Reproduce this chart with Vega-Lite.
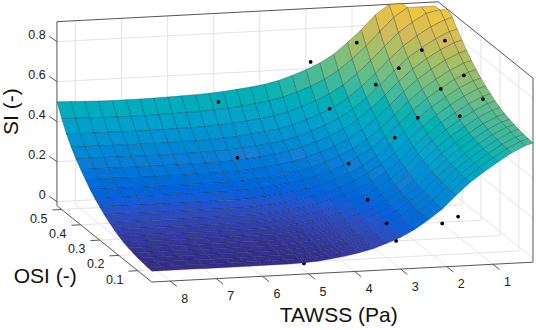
{"$schema":"https://vega.github.io/schema/vega-lite/v6.json","width":536,"height":330,"padding":0,"autosize":"none","background":"white","config":{"view":{"stroke":null},"text":{"font":"Liberation Sans"}},
"datasets":{
"frame":[
{"k":"grid","t":1,"o":0.525,"s":-0.02,"t2":1,"o2":0.525,"s2":0.9},{"k":"grid","t":2,"o":0.525,"s":-0.02,"t2":2,"o2":0.525,"s2":0.9},{"k":"grid","t":3,"o":0.525,"s":-0.02,"t2":3,"o2":0.525,"s2":0.9},{"k":"grid","t":4,"o":0.525,"s":-0.02,"t2":4,"o2":0.525,"s2":0.9},{"k":"grid","t":5,"o":0.525,"s":-0.02,"t2":5,"o2":0.525,"s2":0.9},{"k":"grid","t":6,"o":0.525,"s":-0.02,"t2":6,"o2":0.525,"s2":0.9},{"k":"grid","t":7,"o":0.525,"s":-0.02,"t2":7,"o2":0.525,"s2":0.9},{"k":"grid","t":8,"o":0.525,"s":-0.02,"t2":8,"o2":0.525,"s2":0.9},
{"k":"grid","t":8.4,"o":0.525,"s":0,"t2":0.13,"o2":0.525,"s2":0},{"k":"grid","t":8.4,"o":0.525,"s":0.2,"t2":0.13,"o2":0.525,"s2":0.2},{"k":"grid","t":8.4,"o":0.525,"s":0.4,"t2":0.13,"o2":0.525,"s2":0.4},{"k":"grid","t":8.4,"o":0.525,"s":0.6,"t2":0.13,"o2":0.525,"s2":0.6},{"k":"grid","t":8.4,"o":0.525,"s":0.8,"t2":0.13,"o2":0.525,"s2":0.8},
{"k":"grid","t":0.13,"o":0.1,"s":-0.02,"t2":0.13,"o2":0.1,"s2":0.9},{"k":"grid","t":0.13,"o":0.2,"s":-0.02,"t2":0.13,"o2":0.2,"s2":0.9},{"k":"grid","t":0.13,"o":0.3,"s":-0.02,"t2":0.13,"o2":0.3,"s2":0.9},{"k":"grid","t":0.13,"o":0.4,"s":-0.02,"t2":0.13,"o2":0.4,"s2":0.9},{"k":"grid","t":0.13,"o":0.5,"s":-0.02,"t2":0.13,"o2":0.5,"s2":0.9},
{"k":"grid","t":0.13,"o":0.026,"s":0,"t2":0.13,"o2":0.525,"s2":0},{"k":"grid","t":0.13,"o":0.026,"s":0.2,"t2":0.13,"o2":0.525,"s2":0.2},{"k":"grid","t":0.13,"o":0.026,"s":0.4,"t2":0.13,"o2":0.525,"s2":0.4},{"k":"grid","t":0.13,"o":0.026,"s":0.6,"t2":0.13,"o2":0.525,"s2":0.6},{"k":"grid","t":0.13,"o":0.026,"s":0.8,"t2":0.13,"o2":0.525,"s2":0.8},
{"k":"grid","t":1,"o":0.026,"s":-0.02,"t2":1,"o2":0.525,"s2":-0.02},{"k":"grid","t":2,"o":0.026,"s":-0.02,"t2":2,"o2":0.525,"s2":-0.02},{"k":"grid","t":3,"o":0.026,"s":-0.02,"t2":3,"o2":0.525,"s2":-0.02},{"k":"grid","t":4,"o":0.026,"s":-0.02,"t2":4,"o2":0.525,"s2":-0.02},{"k":"grid","t":5,"o":0.026,"s":-0.02,"t2":5,"o2":0.525,"s2":-0.02},{"k":"grid","t":6,"o":0.026,"s":-0.02,"t2":6,"o2":0.525,"s2":-0.02},{"k":"grid","t":7,"o":0.026,"s":-0.02,"t2":7,"o2":0.525,"s2":-0.02},{"k":"grid","t":8,"o":0.026,"s":-0.02,"t2":8,"o2":0.525,"s2":-0.02},
{"k":"grid","t":8.4,"o":0.1,"s":-0.02,"t2":0.13,"o2":0.1,"s2":-0.02},{"k":"grid","t":8.4,"o":0.2,"s":-0.02,"t2":0.13,"o2":0.2,"s2":-0.02},{"k":"grid","t":8.4,"o":0.3,"s":-0.02,"t2":0.13,"o2":0.3,"s2":-0.02},{"k":"grid","t":8.4,"o":0.4,"s":-0.02,"t2":0.13,"o2":0.4,"s2":-0.02},{"k":"grid","t":8.4,"o":0.5,"s":-0.02,"t2":0.13,"o2":0.5,"s2":-0.02},
{"k":"edge","t":8.4,"o":0.525,"s":-0.02,"t2":8.4,"o2":0.525,"s2":0.9},{"k":"edge","t":8.4,"o":0.525,"s":0.9,"t2":0.13,"o2":0.525,"s2":0.9},{"k":"edge","t":0.13,"o":0.525,"s":0.9,"t2":0.13,"o2":0.026,"s2":0.9},{"k":"edge","t":0.13,"o":0.026,"s":0.9,"t2":0.13,"o2":0.026,"s2":-0.02},{"k":"edge","t":8.4,"o":0.525,"s":-0.02,"t2":8.4,"o2":0.026,"s2":-0.02},{"k":"edge","t":8.4,"o":0.026,"s":-0.02,"t2":0.13,"o2":0.026,"s2":-0.02},
{"k":"edge","t":1,"o":0.026,"s":-0.02,"t2":1,"o2":-0.009,"s2":-0.02},{"k":"edge","t":2,"o":0.026,"s":-0.02,"t2":2,"o2":-0.009,"s2":-0.02},{"k":"edge","t":3,"o":0.026,"s":-0.02,"t2":3,"o2":-0.009,"s2":-0.02},{"k":"edge","t":4,"o":0.026,"s":-0.02,"t2":4,"o2":-0.009,"s2":-0.02},{"k":"edge","t":5,"o":0.026,"s":-0.02,"t2":5,"o2":-0.009,"s2":-0.02},{"k":"edge","t":6,"o":0.026,"s":-0.02,"t2":6,"o2":-0.009,"s2":-0.02},{"k":"edge","t":7,"o":0.026,"s":-0.02,"t2":7,"o2":-0.009,"s2":-0.02},{"k":"edge","t":8,"o":0.026,"s":-0.02,"t2":8,"o2":-0.009,"s2":-0.02},
{"k":"edge","t":8.4,"o":0.1,"s":-0.02,"t2":8.6,"o2":0.1,"s2":-0.02},{"k":"edge","t":8.4,"o":0.2,"s":-0.02,"t2":8.6,"o2":0.2,"s2":-0.02},{"k":"edge","t":8.4,"o":0.3,"s":-0.02,"t2":8.6,"o2":0.3,"s2":-0.02},{"k":"edge","t":8.4,"o":0.4,"s":-0.02,"t2":8.6,"o2":0.4,"s2":-0.02},{"k":"edge","t":8.4,"o":0.5,"s":-0.02,"t2":8.6,"o2":0.5,"s2":-0.02},
{"k":"edge","t":8.4,"o":0.525,"s":0,"t2":8.42,"o2":0.56,"s2":0},{"k":"edge","t":8.4,"o":0.525,"s":0.2,"t2":8.42,"o2":0.56,"s2":0.2},{"k":"edge","t":8.4,"o":0.525,"s":0.4,"t2":8.42,"o2":0.56,"s2":0.4},{"k":"edge","t":8.4,"o":0.525,"s":0.6,"t2":8.42,"o2":0.56,"s2":0.6},{"k":"edge","t":8.4,"o":0.525,"s":0.8,"t2":8.42,"o2":0.56,"s2":0.8}],
"labels":[
{"k":"t","label":"1","t":1,"o":0.026,"s":-0.02},{"k":"t","label":"2","t":2,"o":0.026,"s":-0.02},{"k":"t","label":"3","t":3,"o":0.026,"s":-0.02},{"k":"t","label":"4","t":4,"o":0.026,"s":-0.02},{"k":"t","label":"5","t":5,"o":0.026,"s":-0.02},{"k":"t","label":"6","t":6,"o":0.026,"s":-0.02},{"k":"t","label":"7","t":7,"o":0.026,"s":-0.02},{"k":"t","label":"8","t":8,"o":0.026,"s":-0.02},
{"k":"o","label":"0.1","t":8.4,"o":0.1,"s":-0.02},{"k":"o","label":"0.2","t":8.4,"o":0.2,"s":-0.02},{"k":"o","label":"0.3","t":8.4,"o":0.3,"s":-0.02},{"k":"o","label":"0.4","t":8.4,"o":0.4,"s":-0.02},{"k":"o","label":"0.5","t":8.4,"o":0.5,"s":-0.02},
{"k":"s","label":"0","t":8.4,"o":0.525,"s":0},{"k":"s","label":"0.2","t":8.4,"o":0.525,"s":0.2},{"k":"s","label":"0.4","t":8.4,"o":0.525,"s":0.4},{"k":"s","label":"0.6","t":8.4,"o":0.525,"s":0.6},{"k":"s","label":"0.8","t":8.4,"o":0.525,"s":0.8},
{"k":"ts","label":"SI (-)","t":8.4,"o":0.525,"s":0.45},{"k":"to","label":"OSI (-)","t":8.4,"o":0.25,"s":-0.02},{"k":"tt","label":"TAWSS (Pa)","t":4.3,"o":0.026,"s":-0.02}],
"dots":[
{"t":3,"o":0.5,"s":0.653,"p":"top"},{"t":2,"o":0.5,"s":0.737,"p":"top"},{"t":1.5,"o":0.5,"s":0.785,"p":"under"},{"t":0.5,"o":0.4,"s":0.806,"p":"top"},{"t":1,"o":0.4,"s":0.765,"p":"top"},{"t":1.5,"o":0.4,"s":0.68,"p":"top"},{"t":0.5,"o":0.3,"s":0.709,"p":"top"},{"t":2,"o":0.4,"s":0.604,"p":"top"},{"t":1,"o":0.3,"s":0.647,"p":"top"},{"t":0.5,"o":0.2,"s":0.667,"p":"top"},{"t":3,"o":0.4,"s":0.496,"p":"top"},{"t":1.5,"o":0.3,"s":0.509,"p":"top"},{"t":1,"o":0.2,"s":0.588,"p":"top"},{"t":2,"o":0.3,"s":0.415,"p":"top"},{"t":3,"o":0.3,"s":0.297,"p":"top"},{"t":5,"o":0.5,"s":0.477,"p":"top"},{"t":5,"o":0.4,"s":0.275,"p":"top"},{"t":3,"o":0.2,"s":0.194,"p":"top"},{"t":3,"o":0.1,"s":0.152,"p":"top"},{"t":3,"o":0.05,"s":0.102,"p":"under"},{"t":2,"o":0.05,"s":0.178,"p":"top"},{"t":1.45,"o":0.1,"s":0.167,"p":"top"},{"t":5,"o":0.1,"s":0.043,"p":"under"},{"t":5,"o":0.05,"s":0.014,"p":"under"}],
"surface":[
{"t":8.4,"o":0.025,"s":0.035},{"t":8.4,"o":0.05,"s":0.037},{"t":8.4,"o":0.075,"s":0.04},{"t":8.4,"o":0.1,"s":0.044},{"t":8.4,"o":0.125,"s":0.05},{"t":8.4,"o":0.15,"s":0.056},{"t":8.4,"o":0.175,"s":0.065},{"t":8.4,"o":0.2,"s":0.076},{"t":8.4,"o":0.225,"s":0.09},{"t":8.4,"o":0.25,"s":0.106},{"t":8.4,"o":0.275,"s":0.125},{"t":8.4,"o":0.3,"s":0.145},{"t":8.4,"o":0.325,"s":0.168},{"t":8.4,"o":0.35,"s":0.194},{"t":8.4,"o":0.375,"s":0.224},{"t":8.4,"o":0.4,"s":0.256},{"t":8.4,"o":0.425,"s":0.29},{"t":8.4,"o":0.45,"s":0.33},{"t":8.4,"o":0.475,"s":0.377},{"t":8.4,"o":0.5,"s":0.435},{"t":8.4,"o":0.525,"s":0.5},
{"t":8.1,"o":0.025,"s":0.035},{"t":8.1,"o":0.05,"s":0.037},{"t":8.1,"o":0.075,"s":0.04},{"t":8.1,"o":0.1,"s":0.044},{"t":8.1,"o":0.125,"s":0.05},{"t":8.1,"o":0.15,"s":0.056},{"t":8.1,"o":0.175,"s":0.065},{"t":8.1,"o":0.2,"s":0.076},{"t":8.1,"o":0.225,"s":0.09},{"t":8.1,"o":0.25,"s":0.106},{"t":8.1,"o":0.275,"s":0.125},{"t":8.1,"o":0.3,"s":0.145},{"t":8.1,"o":0.325,"s":0.168},{"t":8.1,"o":0.35,"s":0.194},{"t":8.1,"o":0.375,"s":0.224},{"t":8.1,"o":0.4,"s":0.256},{"t":8.1,"o":0.425,"s":0.29},{"t":8.1,"o":0.45,"s":0.329},{"t":8.1,"o":0.475,"s":0.375},{"t":8.1,"o":0.5,"s":0.432},{"t":8.1,"o":0.525,"s":0.497},
{"t":7.8,"o":0.025,"s":0.035},{"t":7.8,"o":0.05,"s":0.037},{"t":7.8,"o":0.075,"s":0.04},{"t":7.8,"o":0.1,"s":0.044},{"t":7.8,"o":0.125,"s":0.05},{"t":7.8,"o":0.15,"s":0.056},{"t":7.8,"o":0.175,"s":0.065},{"t":7.8,"o":0.2,"s":0.076},{"t":7.8,"o":0.225,"s":0.09},{"t":7.8,"o":0.25,"s":0.106},{"t":7.8,"o":0.275,"s":0.125},{"t":7.8,"o":0.3,"s":0.145},{"t":7.8,"o":0.325,"s":0.168},{"t":7.8,"o":0.35,"s":0.194},{"t":7.8,"o":0.375,"s":0.224},{"t":7.8,"o":0.4,"s":0.256},{"t":7.8,"o":0.425,"s":0.29},{"t":7.8,"o":0.45,"s":0.329},{"t":7.8,"o":0.475,"s":0.375},{"t":7.8,"o":0.5,"s":0.431},{"t":7.8,"o":0.525,"s":0.495},
{"t":7.5,"o":0.025,"s":0.035},{"t":7.5,"o":0.05,"s":0.037},{"t":7.5,"o":0.075,"s":0.04},{"t":7.5,"o":0.1,"s":0.044},{"t":7.5,"o":0.125,"s":0.05},{"t":7.5,"o":0.15,"s":0.056},{"t":7.5,"o":0.175,"s":0.065},{"t":7.5,"o":0.2,"s":0.076},{"t":7.5,"o":0.225,"s":0.09},{"t":7.5,"o":0.25,"s":0.106},{"t":7.5,"o":0.275,"s":0.125},{"t":7.5,"o":0.3,"s":0.145},{"t":7.5,"o":0.325,"s":0.168},{"t":7.5,"o":0.35,"s":0.194},{"t":7.5,"o":0.375,"s":0.223},{"t":7.5,"o":0.4,"s":0.255},{"t":7.5,"o":0.425,"s":0.289},{"t":7.5,"o":0.45,"s":0.328},{"t":7.5,"o":0.475,"s":0.374},{"t":7.5,"o":0.5,"s":0.43},{"t":7.5,"o":0.525,"s":0.493},
{"t":7.2,"o":0.025,"s":0.034},{"t":7.2,"o":0.05,"s":0.036},{"t":7.2,"o":0.075,"s":0.039},{"t":7.2,"o":0.1,"s":0.043},{"t":7.2,"o":0.125,"s":0.049},{"t":7.2,"o":0.15,"s":0.055},{"t":7.2,"o":0.175,"s":0.064},{"t":7.2,"o":0.2,"s":0.075},{"t":7.2,"o":0.225,"s":0.089},{"t":7.2,"o":0.25,"s":0.105},{"t":7.2,"o":0.275,"s":0.124},{"t":7.2,"o":0.3,"s":0.144},{"t":7.2,"o":0.325,"s":0.167},{"t":7.2,"o":0.35,"s":0.193},{"t":7.2,"o":0.375,"s":0.222},{"t":7.2,"o":0.4,"s":0.254},{"t":7.2,"o":0.425,"s":0.288},{"t":7.2,"o":0.45,"s":0.327},{"t":7.2,"o":0.475,"s":0.373},{"t":7.2,"o":0.5,"s":0.428},{"t":7.2,"o":0.525,"s":0.492},
{"t":6.9,"o":0.025,"s":0.034},{"t":6.9,"o":0.05,"s":0.036},{"t":6.9,"o":0.075,"s":0.039},{"t":6.9,"o":0.1,"s":0.043},{"t":6.9,"o":0.125,"s":0.049},{"t":6.9,"o":0.15,"s":0.055},{"t":6.9,"o":0.175,"s":0.064},{"t":6.9,"o":0.2,"s":0.075},{"t":6.9,"o":0.225,"s":0.089},{"t":6.9,"o":0.25,"s":0.105},{"t":6.9,"o":0.275,"s":0.124},{"t":6.9,"o":0.3,"s":0.144},{"t":6.9,"o":0.325,"s":0.167},{"t":6.9,"o":0.35,"s":0.193},{"t":6.9,"o":0.375,"s":0.222},{"t":6.9,"o":0.4,"s":0.254},{"t":6.9,"o":0.425,"s":0.288},{"t":6.9,"o":0.45,"s":0.327},{"t":6.9,"o":0.475,"s":0.373},{"t":6.9,"o":0.5,"s":0.428},{"t":6.9,"o":0.525,"s":0.492},
{"t":6.6,"o":0.025,"s":0.034},{"t":6.6,"o":0.05,"s":0.036},{"t":6.6,"o":0.075,"s":0.039},{"t":6.6,"o":0.1,"s":0.043},{"t":6.6,"o":0.125,"s":0.049},{"t":6.6,"o":0.15,"s":0.055},{"t":6.6,"o":0.175,"s":0.064},{"t":6.6,"o":0.2,"s":0.075},{"t":6.6,"o":0.225,"s":0.089},{"t":6.6,"o":0.25,"s":0.105},{"t":6.6,"o":0.275,"s":0.124},{"t":6.6,"o":0.3,"s":0.144},{"t":6.6,"o":0.325,"s":0.167},{"t":6.6,"o":0.35,"s":0.193},{"t":6.6,"o":0.375,"s":0.222},{"t":6.6,"o":0.4,"s":0.254},{"t":6.6,"o":0.425,"s":0.288},{"t":6.6,"o":0.45,"s":0.327},{"t":6.6,"o":0.475,"s":0.373},{"t":6.6,"o":0.5,"s":0.428},{"t":6.6,"o":0.525,"s":0.492},
{"t":6.3,"o":0.025,"s":0.034},{"t":6.3,"o":0.05,"s":0.036},{"t":6.3,"o":0.075,"s":0.039},{"t":6.3,"o":0.1,"s":0.043},{"t":6.3,"o":0.125,"s":0.049},{"t":6.3,"o":0.15,"s":0.055},{"t":6.3,"o":0.175,"s":0.064},{"t":6.3,"o":0.2,"s":0.075},{"t":6.3,"o":0.225,"s":0.089},{"t":6.3,"o":0.25,"s":0.105},{"t":6.3,"o":0.275,"s":0.124},{"t":6.3,"o":0.3,"s":0.144},{"t":6.3,"o":0.325,"s":0.167},{"t":6.3,"o":0.35,"s":0.193},{"t":6.3,"o":0.375,"s":0.222},{"t":6.3,"o":0.4,"s":0.254},{"t":6.3,"o":0.425,"s":0.288},{"t":6.3,"o":0.45,"s":0.327},{"t":6.3,"o":0.475,"s":0.373},{"t":6.3,"o":0.5,"s":0.429},{"t":6.3,"o":0.525,"s":0.493},
{"t":6,"o":0.025,"s":0.035},{"t":6,"o":0.05,"s":0.037},{"t":6,"o":0.075,"s":0.04},{"t":6,"o":0.1,"s":0.044},{"t":6,"o":0.125,"s":0.05},{"t":6,"o":0.15,"s":0.056},{"t":6,"o":0.175,"s":0.065},{"t":6,"o":0.2,"s":0.076},{"t":6,"o":0.225,"s":0.09},{"t":6,"o":0.25,"s":0.106},{"t":6,"o":0.275,"s":0.125},{"t":6,"o":0.3,"s":0.145},{"t":6,"o":0.325,"s":0.168},{"t":6,"o":0.35,"s":0.194},{"t":6,"o":0.375,"s":0.224},{"t":6,"o":0.4,"s":0.256},{"t":6,"o":0.425,"s":0.29},{"t":6,"o":0.45,"s":0.329},{"t":6,"o":0.475,"s":0.375},{"t":6,"o":0.5,"s":0.431},{"t":6,"o":0.525,"s":0.495},
{"t":5.7,"o":0.025,"s":0.035},{"t":5.7,"o":0.05,"s":0.037},{"t":5.7,"o":0.075,"s":0.04},{"t":5.7,"o":0.1,"s":0.044},{"t":5.7,"o":0.125,"s":0.05},{"t":5.7,"o":0.15,"s":0.056},{"t":5.7,"o":0.175,"s":0.065},{"t":5.7,"o":0.2,"s":0.076},{"t":5.7,"o":0.225,"s":0.09},{"t":5.7,"o":0.25,"s":0.106},{"t":5.7,"o":0.275,"s":0.125},{"t":5.7,"o":0.3,"s":0.145},{"t":5.7,"o":0.325,"s":0.168},{"t":5.7,"o":0.35,"s":0.194},{"t":5.7,"o":0.375,"s":0.224},{"t":5.7,"o":0.4,"s":0.256},{"t":5.7,"o":0.425,"s":0.29},{"t":5.7,"o":0.45,"s":0.329},{"t":5.7,"o":0.475,"s":0.375},{"t":5.7,"o":0.5,"s":0.432},{"t":5.7,"o":0.525,"s":0.497},
{"t":5.4,"o":0.025,"s":0.035},{"t":5.4,"o":0.05,"s":0.037},{"t":5.4,"o":0.075,"s":0.04},{"t":5.4,"o":0.1,"s":0.044},{"t":5.4,"o":0.125,"s":0.05},{"t":5.4,"o":0.15,"s":0.056},{"t":5.4,"o":0.175,"s":0.065},{"t":5.4,"o":0.2,"s":0.076},{"t":5.4,"o":0.225,"s":0.09},{"t":5.4,"o":0.25,"s":0.106},{"t":5.4,"o":0.275,"s":0.125},{"t":5.4,"o":0.3,"s":0.145},{"t":5.4,"o":0.325,"s":0.168},{"t":5.4,"o":0.35,"s":0.194},{"t":5.4,"o":0.375,"s":0.225},{"t":5.4,"o":0.4,"s":0.257},{"t":5.4,"o":0.425,"s":0.292},{"t":5.4,"o":0.45,"s":0.332},{"t":5.4,"o":0.475,"s":0.378},{"t":5.4,"o":0.5,"s":0.434},{"t":5.4,"o":0.525,"s":0.499},
{"t":5.1,"o":0.025,"s":0.037},{"t":5.1,"o":0.05,"s":0.039},{"t":5.1,"o":0.075,"s":0.042},{"t":5.1,"o":0.1,"s":0.046},{"t":5.1,"o":0.125,"s":0.052},{"t":5.1,"o":0.15,"s":0.058},{"t":5.1,"o":0.175,"s":0.067},{"t":5.1,"o":0.2,"s":0.079},{"t":5.1,"o":0.225,"s":0.093},{"t":5.1,"o":0.25,"s":0.109},{"t":5.1,"o":0.275,"s":0.128},{"t":5.1,"o":0.3,"s":0.149},{"t":5.1,"o":0.325,"s":0.172},{"t":5.1,"o":0.35,"s":0.198},{"t":5.1,"o":0.375,"s":0.228},{"t":5.1,"o":0.4,"s":0.261},{"t":5.1,"o":0.425,"s":0.296},{"t":5.1,"o":0.45,"s":0.335},{"t":5.1,"o":0.475,"s":0.382},{"t":5.1,"o":0.5,"s":0.438},{"t":5.1,"o":0.525,"s":0.503},
{"t":4.8,"o":0.025,"s":0.042},{"t":4.8,"o":0.05,"s":0.044},{"t":4.8,"o":0.075,"s":0.047},{"t":4.8,"o":0.1,"s":0.051},{"t":4.8,"o":0.125,"s":0.057},{"t":4.8,"o":0.15,"s":0.063},{"t":4.8,"o":0.175,"s":0.072},{"t":4.8,"o":0.2,"s":0.084},{"t":4.8,"o":0.225,"s":0.098},{"t":4.8,"o":0.25,"s":0.114},{"t":4.8,"o":0.275,"s":0.133},{"t":4.8,"o":0.3,"s":0.154},{"t":4.8,"o":0.325,"s":0.177},{"t":4.8,"o":0.35,"s":0.203},{"t":4.8,"o":0.375,"s":0.233},{"t":4.8,"o":0.4,"s":0.266},{"t":4.8,"o":0.425,"s":0.301},{"t":4.8,"o":0.45,"s":0.34},{"t":4.8,"o":0.475,"s":0.387},{"t":4.8,"o":0.5,"s":0.443},{"t":4.8,"o":0.525,"s":0.508},
{"t":4.5,"o":0.025,"s":0.05},{"t":4.5,"o":0.05,"s":0.052},{"t":4.5,"o":0.075,"s":0.055},{"t":4.5,"o":0.1,"s":0.059},{"t":4.5,"o":0.125,"s":0.065},{"t":4.5,"o":0.15,"s":0.071},{"t":4.5,"o":0.175,"s":0.08},{"t":4.5,"o":0.2,"s":0.092},{"t":4.5,"o":0.225,"s":0.106},{"t":4.5,"o":0.25,"s":0.122},{"t":4.5,"o":0.275,"s":0.141},{"t":4.5,"o":0.3,"s":0.162},{"t":4.5,"o":0.325,"s":0.185},{"t":4.5,"o":0.35,"s":0.21},{"t":4.5,"o":0.375,"s":0.241},{"t":4.5,"o":0.4,"s":0.273},{"t":4.5,"o":0.425,"s":0.308},{"t":4.5,"o":0.45,"s":0.348},{"t":4.5,"o":0.475,"s":0.394},{"t":4.5,"o":0.5,"s":0.45},{"t":4.5,"o":0.525,"s":0.515},
{"t":4.2,"o":0.025,"s":0.06},{"t":4.2,"o":0.05,"s":0.062},{"t":4.2,"o":0.075,"s":0.065},{"t":4.2,"o":0.1,"s":0.069},{"t":4.2,"o":0.125,"s":0.075},{"t":4.2,"o":0.15,"s":0.081},{"t":4.2,"o":0.175,"s":0.09},{"t":4.2,"o":0.2,"s":0.102},{"t":4.2,"o":0.225,"s":0.116},{"t":4.2,"o":0.25,"s":0.132},{"t":4.2,"o":0.275,"s":0.15},{"t":4.2,"o":0.3,"s":0.171},{"t":4.2,"o":0.325,"s":0.194},{"t":4.2,"o":0.35,"s":0.22},{"t":4.2,"o":0.375,"s":0.25},{"t":4.2,"o":0.4,"s":0.282},{"t":4.2,"o":0.425,"s":0.317},{"t":4.2,"o":0.45,"s":0.356},{"t":4.2,"o":0.475,"s":0.403},{"t":4.2,"o":0.5,"s":0.458},{"t":4.2,"o":0.525,"s":0.523},
{"t":3.9,"o":0.025,"s":0.073},{"t":3.9,"o":0.05,"s":0.075},{"t":3.9,"o":0.075,"s":0.078},{"t":3.9,"o":0.1,"s":0.082},{"t":3.9,"o":0.125,"s":0.088},{"t":3.9,"o":0.15,"s":0.094},{"t":3.9,"o":0.175,"s":0.103},{"t":3.9,"o":0.2,"s":0.114},{"t":3.9,"o":0.225,"s":0.128},{"t":3.9,"o":0.25,"s":0.144},{"t":3.9,"o":0.275,"s":0.163},{"t":3.9,"o":0.3,"s":0.183},{"t":3.9,"o":0.325,"s":0.206},{"t":3.9,"o":0.35,"s":0.232},{"t":3.9,"o":0.375,"s":0.262},{"t":3.9,"o":0.4,"s":0.294},{"t":3.9,"o":0.425,"s":0.328},{"t":3.9,"o":0.45,"s":0.367},{"t":3.9,"o":0.475,"s":0.413},{"t":3.9,"o":0.5,"s":0.469},{"t":3.9,"o":0.525,"s":0.533},
{"t":3.6,"o":0.025,"s":0.09},{"t":3.6,"o":0.05,"s":0.092},{"t":3.6,"o":0.075,"s":0.095},{"t":3.6,"o":0.1,"s":0.099},{"t":3.6,"o":0.125,"s":0.105},{"t":3.6,"o":0.15,"s":0.111},{"t":3.6,"o":0.175,"s":0.12},{"t":3.6,"o":0.2,"s":0.131},{"t":3.6,"o":0.225,"s":0.145},{"t":3.6,"o":0.25,"s":0.161},{"t":3.6,"o":0.275,"s":0.179},{"t":3.6,"o":0.3,"s":0.2},{"t":3.6,"o":0.325,"s":0.223},{"t":3.6,"o":0.35,"s":0.248},{"t":3.6,"o":0.375,"s":0.278},{"t":3.6,"o":0.4,"s":0.31},{"t":3.6,"o":0.425,"s":0.344},{"t":3.6,"o":0.45,"s":0.383},{"t":3.6,"o":0.475,"s":0.429},{"t":3.6,"o":0.5,"s":0.484},{"t":3.6,"o":0.525,"s":0.548},
{"t":3.3,"o":0.025,"s":0.113},{"t":3.3,"o":0.05,"s":0.115},{"t":3.3,"o":0.075,"s":0.118},{"t":3.3,"o":0.1,"s":0.122},{"t":3.3,"o":0.125,"s":0.128},{"t":3.3,"o":0.15,"s":0.134},{"t":3.3,"o":0.175,"s":0.143},{"t":3.3,"o":0.2,"s":0.154},{"t":3.3,"o":0.225,"s":0.168},{"t":3.3,"o":0.25,"s":0.184},{"t":3.3,"o":0.275,"s":0.202},{"t":3.3,"o":0.3,"s":0.223},{"t":3.3,"o":0.325,"s":0.246},{"t":3.3,"o":0.35,"s":0.271},{"t":3.3,"o":0.375,"s":0.3},{"t":3.3,"o":0.4,"s":0.332},{"t":3.3,"o":0.425,"s":0.367},{"t":3.3,"o":0.45,"s":0.405},{"t":3.3,"o":0.475,"s":0.451},{"t":3.3,"o":0.5,"s":0.506},{"t":3.3,"o":0.525,"s":0.57},
{"t":3,"o":0.025,"s":0.14},{"t":3,"o":0.05,"s":0.142},{"t":3,"o":0.075,"s":0.145},{"t":3,"o":0.1,"s":0.149},{"t":3,"o":0.125,"s":0.155},{"t":3,"o":0.15,"s":0.161},{"t":3,"o":0.175,"s":0.17},{"t":3,"o":0.2,"s":0.181},{"t":3,"o":0.225,"s":0.195},{"t":3,"o":0.25,"s":0.211},{"t":3,"o":0.275,"s":0.229},{"t":3,"o":0.3,"s":0.249},{"t":3,"o":0.325,"s":0.272},{"t":3,"o":0.35,"s":0.297},{"t":3,"o":0.375,"s":0.327},{"t":3,"o":0.4,"s":0.358},{"t":3,"o":0.425,"s":0.393},{"t":3,"o":0.45,"s":0.431},{"t":3,"o":0.475,"s":0.477},{"t":3,"o":0.5,"s":0.531},{"t":3,"o":0.525,"s":0.595},
{"t":2.7,"o":0.025,"s":0.175},{"t":2.7,"o":0.05,"s":0.177},{"t":2.7,"o":0.075,"s":0.18},{"t":2.7,"o":0.1,"s":0.184},{"t":2.7,"o":0.125,"s":0.189},{"t":2.7,"o":0.15,"s":0.196},{"t":2.7,"o":0.175,"s":0.204},{"t":2.7,"o":0.2,"s":0.216},{"t":2.7,"o":0.225,"s":0.229},{"t":2.7,"o":0.25,"s":0.245},{"t":2.7,"o":0.275,"s":0.263},{"t":2.7,"o":0.3,"s":0.283},{"t":2.7,"o":0.325,"s":0.306},{"t":2.7,"o":0.35,"s":0.33},{"t":2.7,"o":0.375,"s":0.36},{"t":2.7,"o":0.4,"s":0.391},{"t":2.7,"o":0.425,"s":0.425},{"t":2.7,"o":0.45,"s":0.463},{"t":2.7,"o":0.475,"s":0.508},{"t":2.7,"o":0.5,"s":0.562},{"t":2.7,"o":0.525,"s":0.625},
{"t":2.4,"o":0.025,"s":0.22},{"t":2.4,"o":0.05,"s":0.222},{"t":2.4,"o":0.075,"s":0.224},{"t":2.4,"o":0.1,"s":0.229},{"t":2.4,"o":0.125,"s":0.234},{"t":2.4,"o":0.15,"s":0.24},{"t":2.4,"o":0.175,"s":0.249},{"t":2.4,"o":0.2,"s":0.26},{"t":2.4,"o":0.225,"s":0.273},{"t":2.4,"o":0.25,"s":0.289},{"t":2.4,"o":0.275,"s":0.307},{"t":2.4,"o":0.3,"s":0.327},{"t":2.4,"o":0.325,"s":0.349},{"t":2.4,"o":0.35,"s":0.374},{"t":2.4,"o":0.375,"s":0.402},{"t":2.4,"o":0.4,"s":0.434},{"t":2.4,"o":0.425,"s":0.467},{"t":2.4,"o":0.45,"s":0.505},{"t":2.4,"o":0.475,"s":0.549},{"t":2.4,"o":0.5,"s":0.603},{"t":2.4,"o":0.525,"s":0.665},
{"t":2.1,"o":0.025,"s":0.27},{"t":2.1,"o":0.05,"s":0.272},{"t":2.1,"o":0.075,"s":0.275},{"t":2.1,"o":0.1,"s":0.279},{"t":2.1,"o":0.125,"s":0.284},{"t":2.1,"o":0.15,"s":0.291},{"t":2.1,"o":0.175,"s":0.299},{"t":2.1,"o":0.2,"s":0.311},{"t":2.1,"o":0.225,"s":0.324},{"t":2.1,"o":0.25,"s":0.34},{"t":2.1,"o":0.275,"s":0.358},{"t":2.1,"o":0.3,"s":0.378},{"t":2.1,"o":0.325,"s":0.401},{"t":2.1,"o":0.35,"s":0.425},{"t":2.1,"o":0.375,"s":0.455},{"t":2.1,"o":0.4,"s":0.486},{"t":2.1,"o":0.425,"s":0.52},{"t":2.1,"o":0.45,"s":0.558},{"t":2.1,"o":0.475,"s":0.603},{"t":2.1,"o":0.5,"s":0.657},{"t":2.1,"o":0.525,"s":0.72},
{"t":1.8,"o":0.025,"s":0.335},{"t":1.8,"o":0.05,"s":0.337},{"t":1.8,"o":0.075,"s":0.339},{"t":1.8,"o":0.1,"s":0.344},{"t":1.8,"o":0.125,"s":0.349},{"t":1.8,"o":0.15,"s":0.355},{"t":1.8,"o":0.175,"s":0.364},{"t":1.8,"o":0.2,"s":0.375},{"t":1.8,"o":0.225,"s":0.388},{"t":1.8,"o":0.25,"s":0.404},{"t":1.8,"o":0.275,"s":0.422},{"t":1.8,"o":0.3,"s":0.442},{"t":1.8,"o":0.325,"s":0.464},{"t":1.8,"o":0.35,"s":0.489},{"t":1.8,"o":0.375,"s":0.517},{"t":1.8,"o":0.4,"s":0.549},{"t":1.8,"o":0.425,"s":0.582},{"t":1.8,"o":0.45,"s":0.62},{"t":1.8,"o":0.475,"s":0.664},{"t":1.8,"o":0.5,"s":0.718},{"t":1.8,"o":0.525,"s":0.78},
{"t":1.5,"o":0.025,"s":0.395},{"t":1.5,"o":0.05,"s":0.397},{"t":1.5,"o":0.075,"s":0.4},{"t":1.5,"o":0.1,"s":0.404},{"t":1.5,"o":0.125,"s":0.41},{"t":1.5,"o":0.15,"s":0.416},{"t":1.5,"o":0.175,"s":0.425},{"t":1.5,"o":0.2,"s":0.436},{"t":1.5,"o":0.225,"s":0.45},{"t":1.5,"o":0.25,"s":0.466},{"t":1.5,"o":0.275,"s":0.484},{"t":1.5,"o":0.3,"s":0.504},{"t":1.5,"o":0.325,"s":0.527},{"t":1.5,"o":0.35,"s":0.552},{"t":1.5,"o":0.375,"s":0.582},{"t":1.5,"o":0.4,"s":0.613},{"t":1.5,"o":0.425,"s":0.648},{"t":1.5,"o":0.45,"s":0.686},{"t":1.5,"o":0.475,"s":0.732},{"t":1.5,"o":0.5,"s":0.786},{"t":1.5,"o":0.525,"s":0.85},
{"t":1.2,"o":0.025,"s":0.445},{"t":1.2,"o":0.05,"s":0.447},{"t":1.2,"o":0.075,"s":0.45},{"t":1.2,"o":0.1,"s":0.455},{"t":1.2,"o":0.125,"s":0.46},{"t":1.2,"o":0.15,"s":0.467},{"t":1.2,"o":0.175,"s":0.476},{"t":1.2,"o":0.2,"s":0.488},{"t":1.2,"o":0.225,"s":0.502},{"t":1.2,"o":0.25,"s":0.519},{"t":1.2,"o":0.275,"s":0.538},{"t":1.2,"o":0.3,"s":0.559},{"t":1.2,"o":0.325,"s":0.583},{"t":1.2,"o":0.35,"s":0.609},{"t":1.2,"o":0.375,"s":0.64},{"t":1.2,"o":0.4,"s":0.673},{"t":1.2,"o":0.425,"s":0.709},{"t":1.2,"o":0.45,"s":0.749},{"t":1.2,"o":0.475,"s":0.797},{"t":1.2,"o":0.5,"s":0.854},{"t":1.2,"o":0.525,"s":0.9},
{"t":0.9,"o":0.025,"s":0.49},{"t":0.9,"o":0.05,"s":0.492},{"t":0.9,"o":0.075,"s":0.495},{"t":0.9,"o":0.1,"s":0.5},{"t":0.9,"o":0.125,"s":0.505},{"t":0.9,"o":0.15,"s":0.512},{"t":0.9,"o":0.175,"s":0.521},{"t":0.9,"o":0.2,"s":0.533},{"t":0.9,"o":0.225,"s":0.548},{"t":0.9,"o":0.25,"s":0.564},{"t":0.9,"o":0.275,"s":0.584},{"t":0.9,"o":0.3,"s":0.605},{"t":0.9,"o":0.325,"s":0.629},{"t":0.9,"o":0.35,"s":0.656},{"t":0.9,"o":0.375,"s":0.687},{"t":0.9,"o":0.4,"s":0.72},{"t":0.9,"o":0.425,"s":0.756},{"t":0.9,"o":0.45,"s":0.797},{"t":0.9,"o":0.475,"s":0.845},{"t":0.9,"o":0.5,"s":0.9},{"t":0.9,"o":0.525,"s":0.9},
{"t":0.6,"o":0.025,"s":0.532},{"t":0.6,"o":0.05,"s":0.534},{"t":0.6,"o":0.075,"s":0.537},{"t":0.6,"o":0.1,"s":0.542},{"t":0.6,"o":0.125,"s":0.547},{"t":0.6,"o":0.15,"s":0.554},{"t":0.6,"o":0.175,"s":0.563},{"t":0.6,"o":0.2,"s":0.575},{"t":0.6,"o":0.225,"s":0.589},{"t":0.6,"o":0.25,"s":0.606},{"t":0.6,"o":0.275,"s":0.625},{"t":0.6,"o":0.3,"s":0.647},{"t":0.6,"o":0.325,"s":0.671},{"t":0.6,"o":0.35,"s":0.697},{"t":0.6,"o":0.375,"s":0.728},{"t":0.6,"o":0.4,"s":0.761},{"t":0.6,"o":0.425,"s":0.797},{"t":0.6,"o":0.45,"s":0.838},{"t":0.6,"o":0.475,"s":0.886},{"t":0.6,"o":0.5,"s":0.9},{"t":0.6,"o":0.525,"s":0.9},
{"t":0.3,"o":0.025,"s":0.565},{"t":0.3,"o":0.05,"s":0.567},{"t":0.3,"o":0.075,"s":0.57},{"t":0.3,"o":0.1,"s":0.575},{"t":0.3,"o":0.125,"s":0.58},{"t":0.3,"o":0.15,"s":0.587},{"t":0.3,"o":0.175,"s":0.596},{"t":0.3,"o":0.2,"s":0.608},{"t":0.3,"o":0.225,"s":0.622},{"t":0.3,"o":0.25,"s":0.639},{"t":0.3,"o":0.275,"s":0.658},{"t":0.3,"o":0.3,"s":0.679},{"t":0.3,"o":0.325,"s":0.703},{"t":0.3,"o":0.35,"s":0.729},{"t":0.3,"o":0.375,"s":0.76},{"t":0.3,"o":0.4,"s":0.793},{"t":0.3,"o":0.425,"s":0.829},{"t":0.3,"o":0.45,"s":0.869},{"t":0.3,"o":0.475,"s":0.9},{"t":0.3,"o":0.5,"s":0.9},{"t":0.3,"o":0.525,"s":0.9},
{"t":0.13,"o":0.025,"s":0.577},{"t":0.13,"o":0.05,"s":0.579},{"t":0.13,"o":0.075,"s":0.582},{"t":0.13,"o":0.1,"s":0.587},{"t":0.13,"o":0.125,"s":0.592},{"t":0.13,"o":0.15,"s":0.599},{"t":0.13,"o":0.175,"s":0.608},{"t":0.13,"o":0.2,"s":0.62},{"t":0.13,"o":0.225,"s":0.634},{"t":0.13,"o":0.25,"s":0.651},{"t":0.13,"o":0.275,"s":0.669},{"t":0.13,"o":0.3,"s":0.69},{"t":0.13,"o":0.325,"s":0.714},{"t":0.13,"o":0.35,"s":0.74},{"t":0.13,"o":0.375,"s":0.771},{"t":0.13,"o":0.4,"s":0.804},{"t":0.13,"o":0.425,"s":0.84},{"t":0.13,"o":0.45,"s":0.88},{"t":0.13,"o":0.475,"s":0.9},{"t":0.13,"o":0.5,"s":0.9},{"t":0.13,"o":0.525,"s":0.9}]
},
"layer":[
{"data":{"name":"frame"},"transform":[{"filter":"datum.k=='grid'"},{"calculate":"543.94-190*datum.o-46.1*datum.t","as":"X"},{"calculate":"261.84-153*datum.o+2.4*datum.t-200*datum.s","as":"Y"},{"calculate":"543.94-190*datum.o2-46.1*datum.t2","as":"X2"},{"calculate":"261.84-153*datum.o2+2.4*datum.t2-200*datum.s2","as":"Y2"}],
"mark":{"type":"rule","stroke":"#e3e3e3","strokeWidth":1},
"encoding":{"x":{"field":"X","type":"quantitative","scale":{"domain":[0,536],"nice":false,"zero":false},"axis":null},"y":{"field":"Y","type":"quantitative","scale":{"domain":[330,0],"nice":false,"zero":false},"axis":null},"x2":{"field":"X2"},"y2":{"field":"Y2"}}},
{"data":{"name":"frame"},"transform":[{"filter":"datum.k=='edge'"},{"calculate":"543.94-190*datum.o-46.1*datum.t","as":"X"},{"calculate":"261.84-153*datum.o+2.4*datum.t-200*datum.s","as":"Y"},{"calculate":"543.94-190*datum.o2-46.1*datum.t2","as":"X2"},{"calculate":"261.84-153*datum.o2+2.4*datum.t2-200*datum.s2","as":"Y2"}],
"mark":{"type":"rule","stroke":"#555555","strokeWidth":1},
"encoding":{"x":{"field":"X","type":"quantitative","scale":{"domain":[0,536],"nice":false,"zero":false},"axis":null},"y":{"field":"Y","type":"quantitative","scale":{"domain":[330,0],"nice":false,"zero":false},"axis":null},"x2":{"field":"X2"},"y2":{"field":"Y2"}}},
{"data":{"name":"dots"},"transform":[{"filter":"datum.p=='under'"},{"calculate":"543.94-190*datum.o-46.1*datum.t","as":"X"},{"calculate":"261.84-153*datum.o+2.4*datum.t-200*datum.s","as":"Y"}],
"mark":{"type":"circle","size":14,"color":"#000000","opacity":1},
"encoding":{"x":{"field":"X","type":"quantitative","scale":{"domain":[0,536],"nice":false,"zero":false},"axis":null},"y":{"field":"Y","type":"quantitative","scale":{"domain":[330,0],"nice":false,"zero":false},"axis":null}}},
{"data":{"name":"surface"},"transform":[
{"window":[{"op":"lead","field":"s","as":"s_a"},{"op":"lead","field":"t","as":"t_a"}],"groupby":["o"],"sort":[{"field":"t","order":"ascending"}]},
{"window":[{"op":"lead","field":"s","as":"s_b"},{"op":"lead","field":"o","as":"o_b"},{"op":"lead","field":"s_a","as":"s_c"}],"groupby":["t"],"sort":[{"field":"o","order":"ascending"}]},
{"filter":"isValid(datum.s_a)&&isValid(datum.s_b)&&isValid(datum.s_c)&&min(datum.s,datum.s_a,datum.s_b,datum.s_c)<0.9"},
{"calculate":"543.94-190*datum.o-46.1*datum.t","as":"X"},{"calculate":"261.84-153*datum.o+2.4*datum.t-200*datum.s","as":"Y"},
{"calculate":"round(-4610*(datum.t_a-datum.t))/100","as":"ax"},
{"calculate":"round(100*(2.4*(datum.t_a-datum.t)-200*(datum.s_a-datum.s)))/100","as":"ay"},
{"calculate":"round(-19000*(datum.o_b-datum.o))/100","as":"bx"},
{"calculate":"round(100*(-153*(datum.o_b-datum.o)-200*(datum.s_b-datum.s)))/100","as":"by"},
{"calculate":"round(100*(datum.ax+datum.bx))/100","as":"cx"},
{"calculate":"round(100*(2.4*(datum.t_a-datum.t)-153*(datum.o_b-datum.o)-200*(datum.s_c-datum.s)))/100","as":"cy"},
{"calculate":"'M0,0L'+datum.ax+','+datum.ay+'L'+datum.cx+','+datum.cy+'L'+datum.bx+','+datum.by+'Z'","as":"cell"},
{"calculate":"(datum.s+datum.s_a+datum.s_b+datum.s_c)/4","as":"m"},
{"calculate":"datum.o/0.5-datum.t/8.27","as":"depth"}],
"mark":{"type":"point","filled":true,"size":4,"opacity":1,"stroke":"#0b2233","strokeWidth":0.5,"strokeOpacity":0.55},
"encoding":{"x":{"field":"X","type":"quantitative","scale":{"domain":[0,536],"nice":false,"zero":false},"axis":null},"y":{"field":"Y","type":"quantitative","scale":{"domain":[330,0],"nice":false,"zero":false},"axis":null},
"shape":{"field":"cell","type":"nominal","scale":null},
"color":{"field":"m","type":"quantitative","legend":null,"scale":{"domain":[0.03,0.1575,0.285,0.4125,0.54,0.6675,0.795,0.9225,1.05],"range":["#352A87","#0F5CDD","#1481D6","#06A4CA","#2EB7A4","#87BF77","#D1BB59","#FEC832","#F9FB0E"]}},
"order":{"field":"depth","type":"quantitative","sort":"descending"}}},
{"data":{"name":"dots"},"transform":[{"filter":"datum.p=='top'"},{"calculate":"543.94-190*datum.o-46.1*datum.t","as":"X"},{"calculate":"261.84-153*datum.o+2.4*datum.t-200*datum.s","as":"Y"}],
"mark":{"type":"circle","size":14,"color":"#000000","opacity":1},
"encoding":{"x":{"field":"X","type":"quantitative","scale":{"domain":[0,536],"nice":false,"zero":false},"axis":null},"y":{"field":"Y","type":"quantitative","scale":{"domain":[330,0],"nice":false,"zero":false},"axis":null}}},
{"data":{"name":"labels"},"transform":[{"filter":"datum.k=='t'"},{"calculate":"543.94-190*datum.o-46.1*datum.t","as":"X"},{"calculate":"261.84-153*datum.o+2.4*datum.t-200*datum.s","as":"Y"}],
"mark":{"type":"text","fontSize":12.5,"font":"Liberation Sans","color":"#222222","align":"center","baseline":"middle","dx":14.5,"dy":17.7},
"encoding":{"x":{"field":"X","type":"quantitative","scale":{"domain":[0,536],"nice":false,"zero":false},"axis":null},"y":{"field":"Y","type":"quantitative","scale":{"domain":[330,0],"nice":false,"zero":false},"axis":null},"text":{"field":"label"}}},
{"data":{"name":"labels"},"transform":[{"filter":"datum.k=='o'"},{"calculate":"543.94-190*datum.o-46.1*datum.t","as":"X"},{"calculate":"261.84-153*datum.o+2.4*datum.t-200*datum.s","as":"Y"}],
"mark":{"type":"text","fontSize":12.5,"font":"Liberation Sans","color":"#222222","align":"center","baseline":"middle","dx":-23,"dy":9},
"encoding":{"x":{"field":"X","type":"quantitative","scale":{"domain":[0,536],"nice":false,"zero":false},"axis":null},"y":{"field":"Y","type":"quantitative","scale":{"domain":[330,0],"nice":false,"zero":false},"axis":null},"text":{"field":"label"}}},
{"data":{"name":"labels"},"transform":[{"filter":"datum.k=='s'"},{"calculate":"543.94-190*datum.o-46.1*datum.t","as":"X"},{"calculate":"261.84-153*datum.o+2.4*datum.t-200*datum.s","as":"Y"}],
"mark":{"type":"text","fontSize":12.5,"font":"Liberation Sans","color":"#222222","align":"right","baseline":"middle","dx":-11.3,"dy":-7},
"encoding":{"x":{"field":"X","type":"quantitative","scale":{"domain":[0,536],"nice":false,"zero":false},"axis":null},"y":{"field":"Y","type":"quantitative","scale":{"domain":[330,0],"nice":false,"zero":false},"axis":null},"text":{"field":"label"}}},
{"data":{"name":"labels"},"transform":[{"filter":"datum.k=='ts'"},{"calculate":"543.94-190*datum.o-46.1*datum.t","as":"X"},{"calculate":"261.84-153*datum.o+2.4*datum.t-200*datum.s","as":"Y"}],
"mark":{"type":"text","fontSize":21,"font":"Liberation Sans","color":"#111111","align":"center","baseline":"middle","angle":270,"dx":0,"dy":-45},
"encoding":{"x":{"field":"X","type":"quantitative","scale":{"domain":[0,536],"nice":false,"zero":false},"axis":null},"y":{"field":"Y","type":"quantitative","scale":{"domain":[330,0],"nice":false,"zero":false},"axis":null},"text":{"field":"label"}}},
{"data":{"name":"labels"},"transform":[{"filter":"datum.k=='to'"},{"calculate":"543.94-190*datum.o-46.1*datum.t","as":"X"},{"calculate":"261.84-153*datum.o+2.4*datum.t-200*datum.s","as":"Y"}],
"mark":{"type":"text","fontSize":21,"font":"Liberation Sans","color":"#111111","align":"center","baseline":"middle","dx":-64,"dy":29},
"encoding":{"x":{"field":"X","type":"quantitative","scale":{"domain":[0,536],"nice":false,"zero":false},"axis":null},"y":{"field":"Y","type":"quantitative","scale":{"domain":[330,0],"nice":false,"zero":false},"axis":null},"text":{"field":"label"}}},
{"data":{"name":"labels"},"transform":[{"filter":"datum.k=='tt'"},{"calculate":"543.94-190*datum.o-46.1*datum.t","as":"X"},{"calculate":"261.84-153*datum.o+2.4*datum.t-200*datum.s","as":"Y"}],
"mark":{"type":"text","fontSize":21,"font":"Liberation Sans","color":"#111111","align":"center","baseline":"middle","dx":-2,"dy":44},
"encoding":{"x":{"field":"X","type":"quantitative","scale":{"domain":[0,536],"nice":false,"zero":false},"axis":null},"y":{"field":"Y","type":"quantitative","scale":{"domain":[330,0],"nice":false,"zero":false},"axis":null},"text":{"field":"label"}}}
]}
